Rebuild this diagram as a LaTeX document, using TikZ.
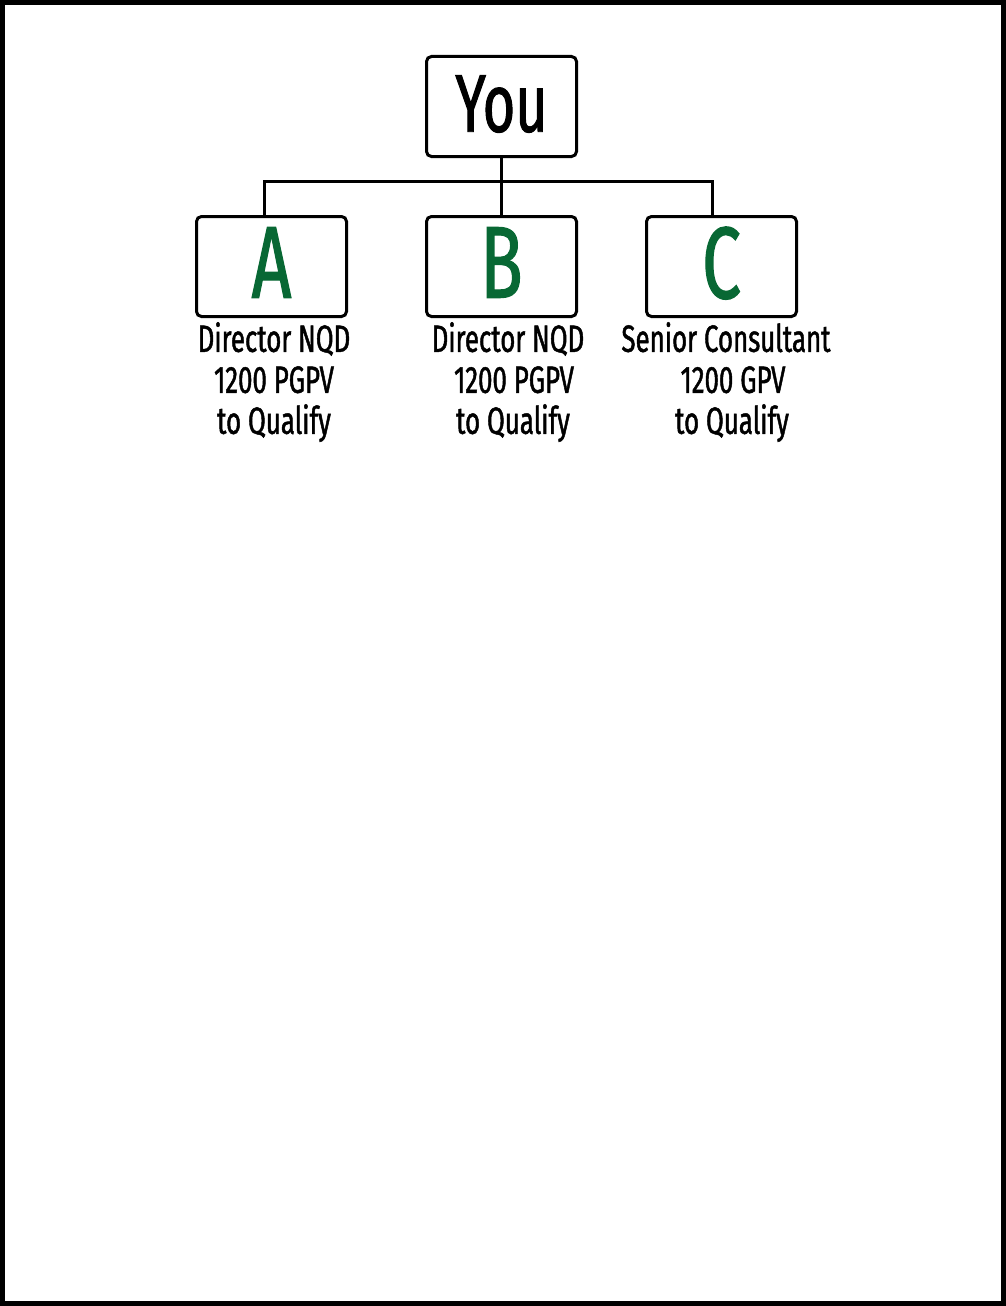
\documentclass[tikz,border=0pt]{standalone}
\usepackage{fontspec}
\setmainfont[FakeStretch=0.68, FakeBold=1.2]{Fira Sans}
\definecolor{leafgreen}{RGB}{8,104,52}
\begin{document}
\begin{tikzpicture}[x=1pt,y=-1pt,
  box/.style={draw=black, line width=3pt, rounded corners=5pt, minimum width=150pt, minimum height=100pt, inner sep=0pt, anchor=north west},
  big/.style={font=\fontsize{102}{102}\selectfont, text=leafgreen, text depth=8pt},
  you/.style={font=\fontsize{82}{82}\selectfont, text depth=6pt},
  lbl/.style={font=\fontsize{38}{41}\selectfont, align=center, anchor=north, inner sep=0pt},
  conn/.style={line width=3pt, line cap=rect}]
\useasboundingbox (0,0) rectangle (1006,1306);
\draw[line width=5pt] (2.5,2.5) rectangle (1003.5,1303.5);
\node[box, you] (you) at (425,55) {You};
\node[box, big] (a) at (195,215) {A};
\node[box, big] (b) at (425,215) {B};
\node[box, big] (c) at (645,215) {C};
\coordinate (j) at (500,181);
\draw[conn] (you.south) -- (b.north);
\draw[conn] (a.north -| 264,0) |- (j) -| (c.north -| 712,0);
\node[lbl] (la) at (274,322) {Director NQD\\1200 PGPV\\to Qualify};
\node[lbl] (lb) at (508,322) {Director NQD\\\hspace*{12pt}1200 PGPV\\\hspace*{10pt}to Qualify};
\node[lbl] (lc) at (726,322) {Senior Consultant\\\hspace*{14pt}1200 GPV\\\hspace*{12pt}to Qualify};
\end{tikzpicture}
\end{document}
